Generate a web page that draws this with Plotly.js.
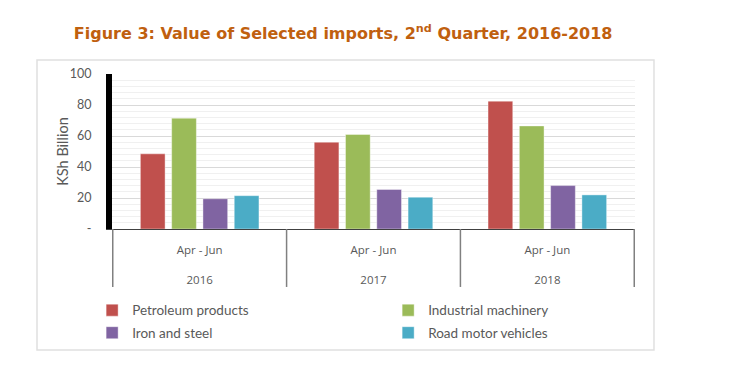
<!DOCTYPE html>
<html>
<head>
<meta charset="utf-8">
<script src="https://cdn.plot.ly/plotly-3.0.1.min.js"></script>
<style>
html,body{margin:0;padding:0;background:#fff;}
#chart{width:746px;height:374px;}
</style>
</head>
<body>
<div id="chart"></div>
<script>
const years = ['2016', '2017', '2018'];
const periods = ['Apr - Jun', 'Apr - Jun', 'Apr - Jun'];
const seriesNames = ['Petroleum products', 'Industrial machinery', 'Iron and steel', 'Road motor vehicles'];
const petroleum = [48.5, 56, 82.5];
const machinery = [71.5, 61, 66.5];
const ironSteel = [19.5, 25.5, 28];
const vehicles = [21.5, 20.5, 22];
const yTickVals = [0, 20, 40, 60, 80, 100];
const yTickText = ['-', '20', '40', '60', '80', '100'];

const colors = ['#C0504D', '#9BBB59', '#8064A2', '#4BACC6'];
const legendOf = ['legend', 'legend2', 'legend', 'legend2'];
const values = [petroleum, machinery, ironSteel, vehicles];

const traces = values.map((v, i) => ({
  type: 'bar',
  name: seriesNames[i],
  x: years,
  y: v,
  marker: {color: colors[i], line: {color: 'rgba(255,255,255,0.5)', width: 0.8}},
  legend: legendOf[i],
  legendgroup: 'g' + i,
  hoverinfo: 'y+name'
}));

const xTickText = years.map((yr, i) => periods[i] + '<br><br>' + yr);

// divider lines at category boundaries (decoration of the category axis)
const dividers = [];
for (let i = 0; i <= years.length; i++) {
  dividers.push({
    type: 'line', xref: 'x', yref: 'paper',
    x0: i - 0.5, x1: i - 0.5, y0: 0, y1: -0.374,
    line: {color: '#808080', width: 1.5}
  });
}

const gray = '#595959';
const legendCommon = {
  orientation: 'v',
  yanchor: 'top',
  xanchor: 'left',
  font: {family: 'Lato, sans-serif', size: 13.5, color: gray},
  itemwidth: 30,
  tracegroupgap: 2,
  traceorder: 'grouped',
  bgcolor: 'rgba(0,0,0,0)'
};

const layout = {
  width: 746,
  height: 374,
  margin: {l: 112, r: 111, t: 74, b: 145},
  paper_bgcolor: '#ffffff',
  plot_bgcolor: '#ffffff',
  barmode: 'group',
  bargap: 0.28,
  bargroupgap: 0.21,
  title: {
    text: 'Figure 3: Value of Selected imports, 2<sup>nd</sup> Quarter, 2016-2018',
    font: {family: 'DejaVu Sans, sans-serif', size: 16, color: '#C0600F', weight: 700},
    x: 0.46, xanchor: 'center',
    y: 0.912, yanchor: 'middle', yref: 'container'
  },
  xaxis: {
    type: 'category',
    tickvals: years,
    ticktext: xTickText,
    showline: true,
    linecolor: '#404040',
    linewidth: 1,
    showgrid: false,
    ticks: '',
    ticklabelstandoff: 10,
    tickfont: {family: 'Open Sans, sans-serif', size: 11.5, color: gray},
    fixedrange: true
  },
  yaxis: {
    range: [0, 100],
    tickvals: yTickVals,
    ticktext: yTickText,
    showline: true,
    linecolor: '#000000',
    linewidth: 6,
    showgrid: true,
    gridcolor: '#D9D9D9',
    gridwidth: 1,
    zeroline: false,
    ticks: '',
    ticklabelstandoff: 12,
    minor: {dtick: 4, showgrid: true, gridcolor: '#F0F0F0', gridwidth: 1},
    tickfont: {family: 'Lato, sans-serif', size: 12.5, color: gray},
    title: {text: 'KSh Billion', font: {family: 'Lato, sans-serif', size: 14.5, color: gray}, standoff: 0},
    fixedrange: true
  },
  legend: Object.assign({}, legendCommon, {x: -0.038, y: -0.425}),
  legend2: Object.assign({}, legendCommon, {x: 0.528, y: -0.425}),
  shapes: [{
    type: 'rect', xref: 'paper', yref: 'paper',
    x0: -0.1434, x1: 1.0363, y0: -0.7806, y1: 1.0903,
    line: {color: '#E0E0E0', width: 1.5}, fillcolor: 'rgba(0,0,0,0)', layer: 'below'
  }].concat(dividers)
};

Plotly.newPlot('chart', traces, layout, {displayModeBar: false, staticPlot: true});
</script>
</body>
</html>
